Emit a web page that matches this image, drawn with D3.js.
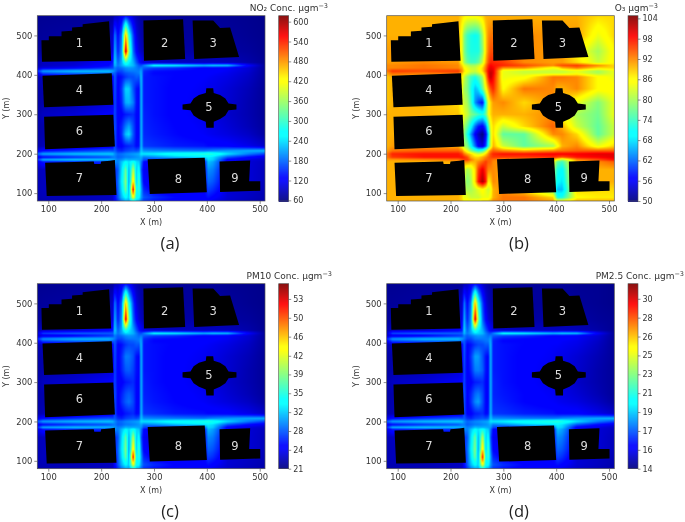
<!DOCTYPE html>
<html><head><meta charset="utf-8">
<script src="https://cdn.jsdelivr.net/npm/d3@7/dist/d3.min.js"></script>
<style>html,body{margin:0;padding:0;background:#fff}svg{display:block;filter:blur(.45px)}text{font-family:"DejaVu Sans",sans-serif}</style>
</head><body><svg id="c" width="685" height="522"></svg>
<script>
const xNodes=[80,90,150,215,222,226,232,239,247,253,261,267,272,276,281,300,340,395,403,412,440,480,510];
const yNodes=[550,500,460,432,424,418,410,405,395,365,330,300,270,250,220,208,200,192,185,180,160,130,110,90,80];
const no2Field=[
[68,68,70,72,74,85,95,110,130,120,95,85,78,75,72,70,70,70,70,70,68,66,64],
[70,72,75,80,95,190,125,185,470,280,160,105,88,80,75,72,72,72,72,72,72,68,65],
[72,75,78,85,105,220,140,205,590,340,180,125,100,90,82,75,75,78,78,78,76,72,66],
[85,90,95,120,140,235,175,215,300,250,215,170,140,120,105,95,90,90,90,90,88,78,68],
[85,90,100,130,150,220,185,210,240,235,220,190,170,165,190,260,250,220,225,230,225,120,72],
[95,105,120,150,160,190,175,185,200,205,200,190,180,190,175,160,150,125,125,125,120,100,72],
[150,205,225,225,210,190,165,165,185,190,190,190,190,210,150,135,130,125,125,125,115,98,72],
[120,170,190,195,180,175,145,155,170,175,180,185,190,215,145,130,128,125,122,120,112,95,72],
[85,90,95,110,120,175,125,135,155,165,165,175,170,225,140,135,128,120,118,115,108,92,72],
[78,80,85,100,108,170,120,155,235,230,170,135,130,225,140,135,125,115,110,110,100,85,70],
[75,80,85,100,106,165,120,145,215,220,190,135,130,225,140,135,125,110,108,105,98,82,70],
[80,90,100,120,125,165,120,125,140,145,150,130,130,225,143,135,125,110,105,105,95,82,70],
[78,80,85,100,112,170,125,145,190,210,165,130,130,225,145,138,128,115,110,110,100,85,72],
[78,80,85,100,112,170,120,150,225,240,170,130,130,225,147,140,130,118,115,112,105,92,75],
[80,85,90,110,120,165,125,125,140,145,150,130,135,225,155,150,140,135,130,130,125,110,95],
[110,130,150,170,165,175,150,145,160,165,170,165,175,230,200,195,190,185,190,195,205,215,220],
[175,210,225,230,225,200,180,185,195,200,205,210,215,245,245,250,275,290,295,285,240,190,160],
[115,130,150,170,185,190,175,180,190,190,195,200,205,215,190,200,225,245,250,240,170,130,110],
[150,215,230,225,215,205,190,200,220,215,215,215,210,205,165,150,150,170,240,230,120,105,95],
[110,140,150,150,160,200,190,225,260,240,280,240,230,190,130,110,110,130,225,210,120,100,90],
[88,90,90,95,110,150,170,240,330,210,380,230,270,170,115,105,105,125,200,190,110,100,88],
[85,88,88,90,100,140,180,250,350,200,460,230,310,190,125,105,105,120,180,170,105,100,88],
[85,88,88,90,100,130,175,240,330,210,570,260,300,210,145,120,110,120,160,150,100,92,85],
[82,85,85,90,95,125,170,220,260,230,420,270,260,205,170,150,130,125,135,125,100,90,82],
[78,80,82,90,95,120,150,185,210,205,260,225,210,180,150,135,120,115,120,110,95,85,78]];
const o3Field=[
[90,90,90,90,88,87,86,86,86,87,88,90,90,90,90,90,90,90,90,90,90,88,88],
[90,90,90,90,84,78,74,72,71,72,80,88,92,93,93,92,92,91,91,91,91,84,88],
[91,91,91,90,84,78,74,72,72,72,78,88,93,95,95,94,92,91,91,91,86,80,86],
[91,91,92,91,85,80,76,74,74,76,82,90,95,97,97,96,92,91,91,91,88,82,86],
[92,92,93,92,88,84,82,80,80,82,86,92,97,99,98,97,95,92,94,95,96,92,88],
[92,92,93,92,90,86,84,82,82,84,88,93,98,100,99,92,92,85,86,90,93,88,88],
[93,96,95,96,92,88,85,83,82,84,88,94,99,101,100,84,82,82,82,82,84,80,84],
[91,94,93,94,90,86,84,81,80,82,86,92,99,102,100,84,82,82,82,82,84,80,84],
[89,90,90,90,86,82,78,74,72,75,80,90,98,102,99,84,85,93,93,93,92,86,84],
[89,90,90,88,84,80,78,72,66,68,76,85,91,95,97,86,93,92,90,90,92,86,86],
[89,90,90,88,84,82,80,74,64,60,57,72,84,88,91,92,88,92,90,90,84,78,84],
[90,90,90,89,86,84,82,78,76,74,72,76,84,88,90,90,90,92,88,85,80,77,84],
[90,90,90,88,84,80,76,70,62,58,56,62,74,84,88,82,88,94,92,90,82,76,82],
[90,90,90,88,84,78,72,64,56,53,50,56,68,82,88,76,76,92,92,92,88,76,82],
[90,91,91,90,85,80,78,70,62,56,54,60,72,82,90,82,76,80,85,90,92,84,88],
[91,93,94,94,92,88,84,78,74,72,74,80,88,92,94,92,90,92,93,93,94,94,94],
[93,97,98,98,96,93,90,88,84,82,84,88,92,95,97,98,98,99,99,99,99,100,100],
[93,96,98,98,98,97,95,90,88,88,90,92,94,95,96,96,96,97,96,95,98,99,100],
[91,91,92,93,95,96,96,93,90,90,92,94,94,94,93,91,91,90,84,80,92,95,98],
[90,90,90,90,92,92,92,90,90,92,94,96,94,94,92,91,90,86,76,74,90,92,94],
[90,90,90,90,88,84,80,82,88,96,100,96,92,92,92,90,88,80,72,70,90,90,90],
[90,90,90,90,88,82,78,80,88,98,103,98,86,88,92,90,88,78,70,68,90,90,90],
[90,90,90,90,88,82,80,80,82,84,86,84,82,84,90,92,88,76,66,66,88,88,88],
[90,90,90,90,88,84,84,82,82,82,84,84,84,86,90,93,93,88,72,72,86,87,87],
[90,90,90,90,88,86,86,86,86,86,88,88,88,90,92,93,93,91,86,86,90,90,90]];
const pm10Field=[
[21.2,21.2,21.4,21.5,21.6,22.3,22.9,23.9,25.1,24.5,22.9,22.3,21.9,21.7,21.5,21.4,21.4,21.4,21.4,21.4,21.2,21.1,21],
[21.4,21.5,21.7,22,22.9,28.9,24.8,28.5,46.4,34.5,27,23.5,22.5,22,21.7,21.5,21.5,21.5,21.5,21.5,21.5,21.2,21],
[21.5,21.7,21.9,22.3,23.5,30.7,25.7,29.8,53.8,38,28.2,24.8,23.2,22.6,22.1,21.7,21.7,21.9,21.9,21.9,21.7,21.5,21.1],
[22.3,22.6,22.9,24.5,25.7,31.7,27.9,30.4,35.7,32.6,30.4,27.6,25.7,24.5,23.5,22.9,22.6,22.6,22.6,22.6,22.5,21.9,21.2],
[23,27,28,28,28,30.7,28.5,30.1,32,31.7,30.7,28.9,27.6,27.3,28.9,33.2,32.6,30.7,31,31.4,31,24.5,21.5],
[22.9,23.5,24.5,26.4,27,28.9,27.9,28.5,29.5,29.8,29.5,28.9,28.2,28.9,27.9,27,26.4,24.8,24.8,24.8,24.5,23.2,21.5],
[26.4,29.8,31,31,30.1,28.9,27.3,27.3,28.5,28.9,28.9,28.9,28.9,30.1,26.4,25.4,25.1,24.8,24.8,24.8,24.2,23.1,21.5],
[24.5,27.6,28.9,29.2,28.2,27.9,26,26.7,27.6,27.9,28.2,28.5,28.9,30.4,26,25.1,25,24.8,24.6,24.5,24,22.9,21.5],
[22.3,22.6,22.9,23.9,24.5,27.9,24.8,25.4,26.7,27.3,27.3,27.9,27.6,31,25.7,25.4,25,24.5,24.4,24.2,23.7,22.7,21.5],
[21.9,22,22.3,23.2,23.7,27.6,24.5,26.3,29,28.8,27.6,25.4,25.1,31,25.7,25.4,24.8,24.2,23.9,23.9,23.2,22.3,21.4],
[21.7,22,22.3,23.2,23.6,27.3,24.5,26,27.8,28,27,25.4,25.1,31,25.7,25.4,24.8,23.9,23.7,23.5,23.1,22.1,21.4],
[22,22.6,23.2,24.5,24.8,27.3,24.5,24.8,25.7,26,26.4,25.1,25.1,31,25.9,25.4,24.8,23.9,23.5,23.5,22.9,22.1,21.4],
[21.9,22,22.3,23.2,24,27.6,24.8,26,27.5,28,27,25.1,25.1,31,26,25.6,25,24.2,23.9,23.9,23.2,22.3,21.5],
[21.9,22,22.3,23.2,24,27.6,24.5,26.4,28,28.6,27.3,25.1,25.1,31,26.2,25.7,25.1,24.4,24.2,24,23.5,22.7,21.7],
[22,22.3,22.6,23.9,24.5,27.3,24.8,24.8,25.7,26,26.4,25.1,25.4,31,26.7,26.4,25.7,25.4,25.1,25.1,24.8,23.9,22.9],
[23.9,25.1,26.4,27.6,27.3,27.9,26.4,26,27,27.3,27.6,27.3,27.9,31.4,29.5,29.2,28.9,28.5,28.9,29.2,29.8,30.4,30.7],
[27.9,30.1,31,31.4,31,29.5,28.2,28.5,29.2,29.5,29.8,30.1,30.4,32.3,32.3,32.6,34.2,35.1,35.4,34.8,32,28.9,27],
[24.2,25.1,26.4,27.6,28.5,28.9,27.9,28.2,28.9,28.9,29.2,29.5,29.8,30.4,28.9,29.5,31,32.3,32.6,32,27.6,25.1,23.9],
[26.4,30.4,31.4,31,30.4,29.8,28.9,29.5,30.7,30.4,30.4,30.4,30.1,29.8,27.3,26.4,26.4,27.6,32,31.4,24.5,23.5,22.9],
[23.9,25.7,26.4,26.4,27,29.5,28.9,31,33.2,32,34.5,32,31.4,28.9,25.1,23.9,23.9,25.1,31,30.1,24.5,23.2,22.6],
[22.5,22.6,22.6,22.9,23.9,26.4,27.6,32,37.6,30.1,40.7,31.4,33.8,27.6,24.2,23.5,23.5,24.8,29.5,28.9,23.9,23.2,22.5],
[22.3,22.5,22.5,22.6,23.2,25.7,28.2,32.6,38.9,29.5,45.7,31.4,36.4,28.9,24.8,23.5,23.5,24.5,28.2,27.6,23.5,23.2,22.5],
[22.3,22.5,22.5,22.6,23.2,25.1,27.9,32,37.6,30.1,52.6,33.2,35.7,30.1,26,24.5,23.9,24.5,27,26.4,23.2,22.7,22.3],
[22.1,22.3,22.3,22.6,22.9,24.8,27.6,30.7,33.2,31.4,43.2,33.8,33.2,29.8,27.6,26.4,25.1,24.8,25.4,24.8,23.2,22.6,22.1],
[21.9,22,22.1,22.6,22.9,24.5,26.4,28.5,30.1,29.8,33.2,31,30.1,28.2,26.4,25.4,24.5,24.2,24.5,23.9,22.9,22.3,21.9]];
const pm25Field=[
[14.2,14.2,14.3,14.3,14.4,14.7,15,15.5,16.1,15.8,15,14.7,14.5,14.4,14.3,14.3,14.3,14.3,14.3,14.3,14.2,14.2,14.1],
[14.3,14.3,14.4,14.6,15,18,16,17.9,26.8,20.8,17.1,15.4,14.8,14.6,14.4,14.3,14.3,14.3,14.3,14.3,14.3,14.2,14.1],
[14.3,14.4,14.5,14.7,15.4,18.9,16.5,18.5,30.5,22.8,17.7,16,15.2,14.9,14.6,14.4,14.4,14.5,14.5,14.5,14.5,14.3,14.2],
[14.7,14.9,15,15.8,16.5,19.4,17.5,18.8,21.5,19.9,18.8,17.4,16.5,15.8,15.4,15,14.9,14.9,14.9,14.9,14.8,14.5,14.2],
[15,17.2,17.6,17.6,17.6,19,17.9,18.6,19.6,19.4,19,18,17.4,17.2,18,20.2,19.9,19,19.1,19.3,19.1,15.8,14.3],
[15,15.4,15.8,16.8,17.1,18,17.5,17.9,18.3,18.5,18.3,18,17.7,18,17.5,17.1,16.8,16,16,16,15.8,15.2,14.3],
[16.8,18.5,19.1,19.1,18.6,18,17.2,17.2,17.9,18,18,18,18,18.6,16.8,16.3,16.1,16,16,16,15.7,15.1,14.3],
[15.8,17.4,18,18.2,17.7,17.5,16.6,16.9,17.4,17.5,17.7,17.9,18,18.8,16.6,16.1,16.1,16,15.9,15.8,15.6,15,14.3],
[14.7,14.9,15,15.5,15.8,17.5,16,16.3,16.9,17.2,17.2,17.5,17.4,19.1,16.5,16.3,16.1,15.8,15.8,15.7,15.5,14.9,14.3],
[14.5,14.6,14.7,15.2,15.5,17.4,15.8,16.9,18.6,18.5,17.4,16.3,16.1,19.1,16.5,16.3,16,15.7,15.5,15.5,15.2,14.7,14.3],
[14.4,14.6,14.7,15.2,15.4,17.2,15.8,16.6,18,18.1,17.6,16.3,16.1,19.1,16.5,16.3,16,15.5,15.5,15.4,15.1,14.6,14.3],
[14.6,14.9,15.2,15.8,16,17.2,15.8,16,16.5,16.6,16.8,16.1,16.1,19.1,16.6,16.3,16,15.5,15.4,15.4,15,14.6,14.3],
[14.5,14.6,14.7,15.2,15.6,17.4,16,16.6,17.7,18,17.2,16.1,16.1,19.1,16.6,16.4,16.1,15.7,15.5,15.5,15.2,14.7,14.3],
[14.5,14.6,14.7,15.2,15.6,17.4,15.8,16.8,18.2,18.6,17.3,16.1,16.1,19.1,16.7,16.5,16.1,15.8,15.7,15.6,15.4,14.9,14.4],
[14.6,14.7,14.9,15.5,15.8,17.2,16,16,16.5,16.6,16.8,16.1,16.3,19.1,16.9,16.8,16.5,16.3,16.1,16.1,16,15.5,15],
[15.5,16.1,16.8,17.4,17.2,17.5,16.8,16.6,17.1,17.2,17.4,17.2,17.5,19.3,18.3,18.2,18,17.9,18,18.2,18.5,18.8,19],
[17.5,18.6,19.1,19.3,19.1,18.3,17.7,17.9,18.2,18.3,18.5,18.6,18.8,19.7,19.7,19.9,20.7,21.2,21.3,21,19.6,18,17.1],
[15.7,16.1,16.8,17.4,17.9,18,17.5,17.7,18,18,18.2,18.3,18.5,18.8,18,18.3,19.1,19.7,19.9,19.6,17.4,16.1,15.5],
[16.8,18.8,19.3,19.1,18.8,18.5,18,18.3,19,18.8,18.8,18.8,18.6,18.5,17.2,16.8,16.8,17.4,19.6,19.3,15.8,15.4,15],
[15.5,16.5,16.8,16.8,17.1,18.3,18,19.1,20.2,19.6,20.8,19.6,19.3,18,16.1,15.5,15.5,16.1,19.1,18.6,15.8,15.2,14.9],
[14.8,14.9,14.9,15,15.5,16.8,17.4,19.6,22.4,18.6,24,19.3,20.5,17.4,15.7,15.4,15.4,16,18.3,18,15.5,15.2,14.8],
[14.7,14.8,14.8,14.9,15.2,16.5,17.7,19.9,23,18.3,26.4,19.3,21.8,18,16,15.4,15.4,15.8,17.7,17.4,15.4,15.2,14.8],
[14.7,14.8,14.8,14.9,15.2,16.1,17.5,19.6,22.4,18.6,29.9,20.2,21.5,18.6,16.6,15.8,15.5,15.8,17.1,16.8,15.2,14.9,14.7],
[14.6,14.7,14.7,14.9,15,16,17.4,19,20.2,19.3,25.2,20.5,20.2,18.5,17.4,16.8,16.1,16,16.3,16,15.2,14.9,14.6],
[14.5,14.6,14.6,14.9,15,15.8,16.8,17.9,18.6,18.5,20.2,19.1,18.6,17.7,16.8,16.3,15.8,15.7,15.8,15.5,15,14.7,14.5]];
const no2Ticks=[60,120,180,240,300,360,420,480,540,600];
const o3Ticks=[50,56,62,68,74,80,86,92,98,104];
const pm10Ticks=[20.6,24.25,27.9,31.55,35.2,38.85,42.45,46.15,49.8,53.45];
const pm25Ticks=[13.9,15.69,17.48,19.27,21.06,22.85,24.64,26.43,28.22,30.01];
const xTickValues=[100,200,300,400,500];
const yTickValues=[100,200,300,400,500];
const buildingLabels=["1","2","3","4","5","6","7","8","9"];
const buildingLabelX=[159,320,412,159,404,159,159,346,453];
const buildingLabelY=[480,482,482,362,318,258,139,137,139];
const buildings=[
[[87,488],[101,488],[101,498],[125,498],[125,510],[145,512],[145,520],[165,522],[165,528],[190,532],[215,536],[219,436],[88,433]],
[[280,538],[355,541],[359,440],[281,436]],
[[373,538],[412,538],[425,519],[444,520],[461,445],[376,440]],
[[89,398],[220,404],[223,324],[92,318]],
[[399,366],[412,366],[413,354],[425,349],[435,340],[441,327],[456,325],[456,312],[441,310],[435,297],[425,288],[413,281],[413,266],[399,266],[398,281],[385,288],[375,297],[369,310],[354,312],[354,325],[369,327],[375,340],[385,349],[398,354]],
[[92,294],[223,299],[226,218],[94,211]],
[[94,177],[186,180],[187,174],[199,174],[200,180],[217,182],[226,184],[229,95],[97,93]],
[[288,186],[396,190],[400,102],[292,98]],
[[424,180],[482,183],[480,130],[501,130],[501,106],[425,103]]];
const jetStops=[0,.11,.125,.35,.375,.64,.66,.89,1];
const jetColors=["#00007f","#0000ff","#0000ff","#00ffff","#00ffff","#ffff00","#ffff00","#ff0000","#7f0000"];

const jet=d3.scaleLinear().domain(jetStops).range(jetColors).clamp(true);
const svg=d3.select("#c");
const ascY=yNodes.slice().reverse();
function sample(f,x,y){
  const i=Math.min(xNodes.length-2,Math.max(0,d3.bisectRight(xNodes,x)-1));
  const j=Math.min(ascY.length-2,Math.max(0,d3.bisectRight(ascY,y)-1));
  const tx=(x-xNodes[i])/(xNodes[i+1]-xNodes[i]),ty=(y-ascY[j])/(ascY[j+1]-ascY[j]);
  const r0=f[ascY.length-1-j],r1=f[ascY.length-2-j];
  return (r0[i]*(1-tx)+r0[i+1]*tx)*(1-ty)+(r1[i]*(1-tx)+r1[i+1]*tx)*ty;
}
function panel(o){
  const {left,right,top,bottom,field,title,cbDomain,ticks,fmt,tag,tagX,tagY,titleRight,titleY}=o;
  const x=d3.scaleLinear().domain([79.2,510]).range([left,right]);
  const y=d3.scaleLinear().domain([80,550]).range([bottom,top]);
  const cn=d3.scaleLinear().domain(cbDomain).range([0,1]);
  const color=v=>jet(cn(v));
  const w=Math.round(right-left),h=Math.round(bottom-top);
  const cv=document.createElement("canvas");cv.width=w;cv.height=h;
  const ctx=cv.getContext("2d");const im=ctx.createImageData(w,h);
  for(let py=0;py<h;py++)for(let px=0;px<w;px++){
    const c=d3.rgb(color(sample(field,x.invert(left+px+.5),y.invert(top+py+.5))));
    const k=(py*w+px)*4;im.data[k]=c.r;im.data[k+1]=c.g;im.data[k+2]=c.b;im.data[k+3]=255;
  }
  ctx.putImageData(im,0,0);
  const g=svg.append("g");
  g.append("image").attr("x",left).attr("y",top).attr("width",right-left).attr("height",bottom-top)
    .attr("preserveAspectRatio","none").attr("href",cv.toDataURL());
  const line=d3.line().x(d=>x(d[0])).y(d=>y(d[1])).curve(d3.curveLinearClosed);
  g.selectAll("path.b").data(buildings).join("path").attr("class","b").attr("d",line).attr("fill","#000");
  g.selectAll("text.n").data(buildingLabels).join("text").attr("class","n")
    .attr("x",(d,i)=>x(buildingLabelX[i])).attr("y",(d,i)=>y(buildingLabelY[i])).attr("dy","0.36em")
    .attr("text-anchor","middle").attr("fill","#ddd").attr("font-size",11.5).text(d=>d);
  g.append("rect").attr("x",left).attr("y",top).attr("width",right-left).attr("height",bottom-top)
    .attr("fill","none").attr("stroke","#555").attr("stroke-width",.7);
  const ax=g.append("g").attr("transform",`translate(0,${bottom})`).call(d3.axisBottom(x).tickValues(xTickValues).tickSize(3).tickPadding(2));
  const ay=g.append("g").attr("transform",`translate(${left},0)`).call(d3.axisLeft(y).tickValues(yTickValues).tickSize(3).tickPadding(2));
  [ax,ay].forEach(a=>{a.select(".domain").remove();a.selectAll("line").attr("stroke","#444").attr("stroke-width",.6);
    a.selectAll("text").attr("fill","#333").attr("font-size",8.4).attr("font-family","DejaVu Sans");});
  g.append("text").attr("x",(left+right)/2).attr("y",bottom+24).attr("text-anchor","middle").attr("font-size",8).attr("fill","#333").text("X (m)");
  g.append("text").attr("transform",`translate(${left-28},${(top+bottom)/2}) rotate(-90)`).attr("text-anchor","middle").attr("font-size",8).attr("fill","#333").text("Y (m)");
  const tt=g.append("text").attr("x",titleRight).attr("y",titleY).attr("text-anchor","end").attr("font-size",9).attr("fill","#333");
  tt.append("tspan").text(title);
  tt.append("tspan").attr("font-size",6.5).attr("dy",-3).text("−3");
  g.append("text").attr("x",tagX).attr("y",tagY).attr("text-anchor","middle").attr("font-size",16.5).attr("fill","#222")
    .style("font-family","'Open Sans',sans-serif").text(tag);
  const cbX=right+13.7,cbW=10;
  const cy=d3.scaleLinear().domain(cbDomain).range([bottom,top]);
  g.selectAll("rect.cb").data(d3.range(top,bottom,1)).join("rect").attr("class","cb")
    .attr("x",cbX).attr("width",cbW).attr("y",d=>d).attr("height",1.2).attr("fill",d=>color(cy.invert(d+.5)));
  g.append("rect").attr("x",cbX).attr("y",top).attr("width",cbW).attr("height",bottom-top).attr("fill","none").attr("stroke","#555").attr("stroke-width",.6);
  const ac=g.append("g").attr("transform",`translate(${cbX+cbW},0)`).call(d3.axisRight(cy).tickValues(ticks).tickFormat(fmt).tickSize(2.5).tickPadding(2));
  ac.select(".domain").remove();ac.selectAll("line").attr("stroke","#444").attr("stroke-width",.6);
  ac.selectAll("text").attr("fill","#333").attr("font-size",8).attr("font-family","DejaVu Sans");
}
const int=d3.format(".0f");
panel({left:37.3,right:265,top:15.7,bottom:201,field:no2Field,title:"NO₂ Conc. µgm",cbDomain:[58,618],ticks:no2Ticks,fmt:int,tag:"(a)",tagX:170,tagY:249,titleRight:328,titleY:11});
panel({left:386.7,right:614.3,top:15.7,bottom:201,field:o3Field,title:"O₃ µgm",cbDomain:[50,104.8],ticks:o3Ticks,fmt:int,tag:"(b)",tagX:519,tagY:249,titleRight:658,titleY:11});
panel({left:37.3,right:265,top:283.7,bottom:468.7,field:pm10Field,title:"PM10 Conc. µgm",cbDomain:[20.6,56.4],ticks:pm10Ticks,fmt:int,tag:"(c)",tagX:170,tagY:517,titleRight:332,titleY:279});
panel({left:386.7,right:614.3,top:283.7,bottom:468.7,field:pm25Field,title:"PM2.5 Conc. µgm",cbDomain:[13.9,31.44],ticks:pm25Ticks,fmt:int,tag:"(d)",tagX:519,tagY:517,titleRight:684,titleY:279});
</script></body></html>
